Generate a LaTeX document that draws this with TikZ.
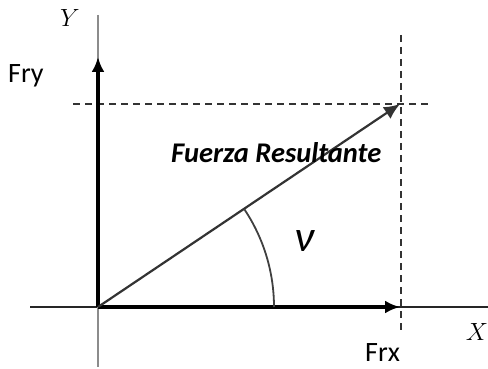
\documentclass[tikz,border=0pt]{standalone}
\usepackage{fontspec}
\setmainfont{Carlito}
\usetikzlibrary{arrows.meta}

\tikzset{
    axisline/.style={line width=1.6pt, black!85},
    yaxisline/.style={line width=2pt, black!45},
    guide/.style={line width=2pt, black!80, dash pattern=on 7pt off 5pt},
    comp/.style={line width=3.4pt, -{Latex[length=15pt, width=13pt]}},
    result/.style={line width=2.2pt, black!80, -{Latex[length=16pt, width=14pt]}},
    anglearc/.style={line width=1.8pt, black!75}
}

\begin{document}
\begin{tikzpicture}[x=1pt, y=-1pt, every node/.style={inner sep=0pt, font=\fontsize{28}{32}\selectfont}]
    \useasboundingbox (0,0) rectangle (488,369);
    % points
    \coordinate (O) at (98,307);
    \coordinate (xl) at (30,307);
    \coordinate (xr) at (488,307);
    \coordinate (yt) at (98,15);
    \coordinate (yb) at (98,367);
    \coordinate (Fx) at (400,307);
    \coordinate (Fy) at (98,57);
    \coordinate (R) at (400,104);
    \coordinate (hl) at (73,104);
    \coordinate (hr) at (428,104);
    \coordinate (vt) at (401,35);
    \coordinate (vb) at (401,333);
    \coordinate (a0) at (274,307);

    \draw[axisline] (xl) -- (xr);
    \draw[yaxisline] (yt) -- (yb);
    \draw[guide] (hl) -- (hr);
    \draw[guide] (vt) -- (vb);
    \draw[comp] (O) -- (Fx);
    \draw[comp] (O) -- (Fy);
    \draw[result] (O) -- (R);
    \draw[anglearc] (a0) arc[start angle=0, end angle=33.6, radius=176pt];

    \node[font=\fontsize{30}{32}\selectfont] (ylab) at (70,18) {$Y$};
    \node[font=\fontsize{30}{32}\selectfont] (xlab) at (477,332) {$X$};
    \node[anchor=base west] (frylab) at (8,83) {Fry};
    \node[anchor=base west] (frxlab) at (365,361) {Frx};
    \node[anchor=base west, font=\fontsize{28.5}{32}\selectfont\bfseries\itshape] (reslab) at (171,162) {Fuerza Resultante};
    \node[font=\fontsize{44}{48}\selectfont\itshape] (anglab) at (304.5,241.5) {ν};
\end{tikzpicture}
\end{document}
